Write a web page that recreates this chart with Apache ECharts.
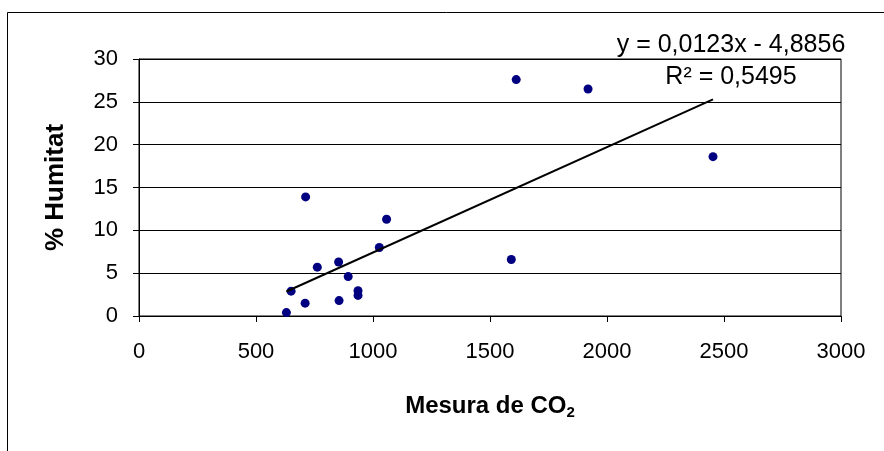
<!DOCTYPE html>
<html>
<head>
<meta charset="utf-8">
<script src="https://cdn.jsdelivr.net/npm/echarts@6/dist/echarts.min.js"></script>
<style>
  html, body { margin: 0; padding: 0; background: #fff; }
  #chart { width: 884px; height: 451px; }
</style>
</head>
<body>
<div id="chart"></div>
<script>
// CO2 readings and measured humidity (%)
const co2 = [630, 650, 710, 712, 762, 853, 855, 894, 936, 936, 1027, 1058, 1591, 1612, 1919, 2453];
const humitat = [0.4, 2.9, 1.5, 13.9, 5.7, 6.3, 1.8, 4.6, 2.95, 2.4, 8.0, 11.3, 6.6, 27.6, 26.5, 18.6];

// Linear fit y = a*x + b, as given in the equation label
const slope = 0.0123;
const intercept = -4.8856;
const equationText = 'y = 0,0123x - 4,8856';
const r2Text = 'R² = 0,5495';

const xTicks = { min: 0, max: 3000, interval: 500 };
const yTicks = { min: 0, max: 30, interval: 5 };

const FONT = "'Liberation Sans', Arial, sans-serif";

const points = co2.map((x, i) => [x, humitat[i]]);
const xMin = Math.min(...co2);
const xMax = Math.max(...co2);
const trend = [xMin, xMax].map(x => [x, slope * x + intercept]);

const chart = echarts.init(document.getElementById('chart'), null, { renderer: 'canvas' });

chart.setOption({
  animation: false,
  backgroundColor: '#fff',
  grid: {
    left: 139, top: 59, right: 43, bottom: 135,
    show: true, borderColor: '#000', borderWidth: 1, backgroundColor: 'transparent'
  },
  xAxis: {
    type: 'value',
    min: xTicks.min, max: xTicks.max, interval: xTicks.interval,
    axisLine: { show: true, onZero: false, lineStyle: { color: '#000', width: 1 } },
    axisTick: { show: true, length: 6, lineStyle: { color: '#000' } },
    axisLabel: { color: '#000', fontFamily: FONT, fontSize: 22, margin: 25, formatter: v => String(v) },
    splitLine: { show: false },
    name: '{a|Mesura de CO}{b|2}',
    nameLocation: 'middle',
    nameGap: 77,
    nameTextStyle: {
      rich: {
        a: { fontFamily: FONT, fontSize: 24, fontWeight: 'bold', color: '#000' },
        b: { fontFamily: FONT, fontSize: 15, fontWeight: 'bold', color: '#000', verticalAlign: 'bottom', padding: [12, 0, 0, 0] }
      }
    }
  },
  yAxis: {
    type: 'value',
    min: yTicks.min, max: yTicks.max, interval: yTicks.interval,
    axisLine: { show: true, lineStyle: { color: '#000', width: 1 } },
    axisTick: { show: true, length: 6, lineStyle: { color: '#000' } },
    axisLabel: { color: '#000', fontFamily: FONT, fontSize: 22, margin: 21, formatter: v => String(v) },
    splitLine: { show: true, lineStyle: { color: '#000', width: 1 } },
    name: '% Humitat',
    nameLocation: 'middle',
    nameGap: 70,
    nameTextStyle: { fontFamily: FONT, fontSize: 26, fontWeight: 'bold', color: '#000' }
  },
  series: [
    {
      name: 'Humitat',
      type: 'scatter',
      data: points,
      symbol: 'circle',
      symbolSize: 9,
      itemStyle: { color: '#000080', opacity: 1 },
      z: 3
    },
    {
      name: 'Tendència',
      type: 'line',
      data: trend,
      symbol: 'none',
      lineStyle: { color: '#000', width: 2 },
      z: 4
    }
  ],
  graphic: [
    {
      type: 'rect',
      left: 5, top: 10,
      shape: { width: 1000, height: 1000 },
      style: { fill: 'none', stroke: '#000', lineWidth: 1 },
      silent: true
    },
    {
      type: 'text',
      x: 731, y: 45.5,
      style: { text: equationText, fontFamily: FONT, fontSize: 25, fill: '#000', align: 'center', verticalAlign: 'middle' }
    },
    {
      type: 'text',
      x: 731, y: 77.5,
      style: { text: r2Text, fontFamily: FONT, fontSize: 25, fill: '#000', align: 'center', verticalAlign: 'middle' }
    }
  ]
});
</script>
</body>
</html>
